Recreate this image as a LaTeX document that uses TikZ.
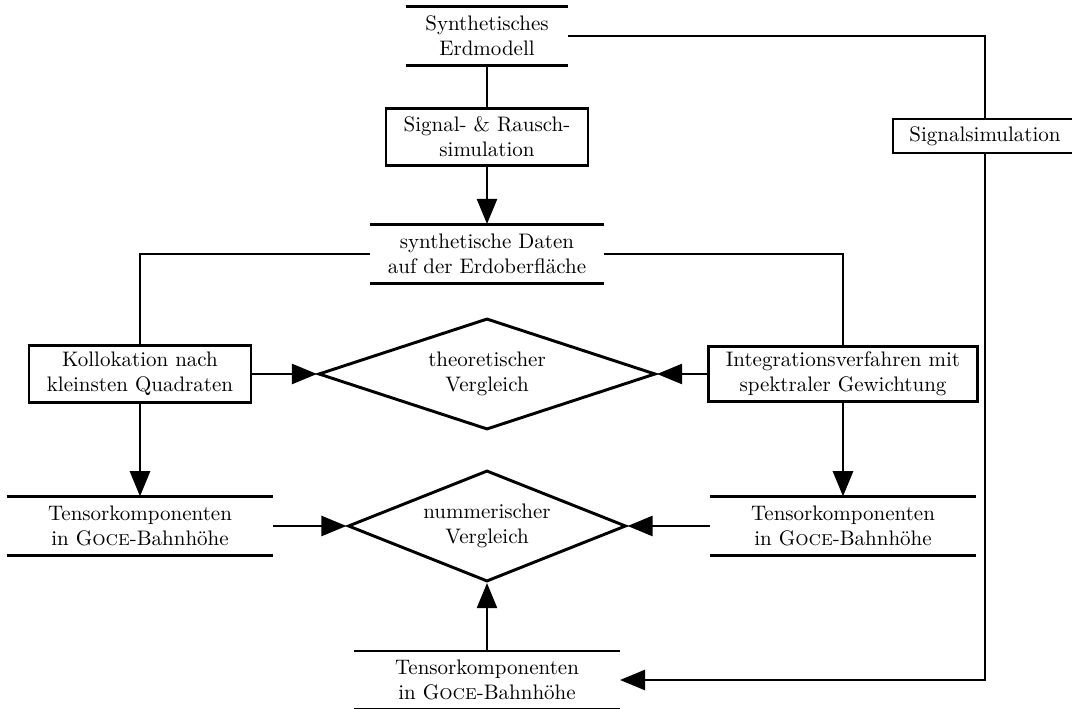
\documentclass[tikz,border=0pt]{standalone}
\usepackage{fontspec}
\usetikzlibrary{arrows.meta,shapes.geometric}
\begin{document}
\begin{tikzpicture}[x=0.4762pt,y=-0.4762pt,
  line width=1.4pt,
  every node/.style={inner sep=0pt,align=center,font=\normalsize},
  store/.style={rectangle,minimum height=26.8pt},
  box/.style={rectangle,draw,minimum height=26.8pt},
  dia/.style={diamond,draw,aspect=3,minimum height=52.9pt},
  arr/.style={-{Triangle[length=12pt,width=9.5pt]}}]
\useasboundingbox (0,0) rectangle (1072,709);
% nodes
\node[store,minimum width=76.2pt] (erd) at (487,36) {Synthetisches\\Erdmodell};
\node[box,minimum width=96.2pt,minimum height=27.1pt] (sr) at (487,137) {Signal- \& Rausch-\\simulation};
\node[store,minimum width=110.5pt,minimum height=27.1pt] (daten) at (487,254) {synthetische Daten\\auf der Erdoberfläche};
\node[box,minimum width=105.7pt] (koll) at (140,374) {Kollokation nach\\kleinsten Quadraten};
\node[box,minimum width=128.1pt,minimum height=26.2pt] (integ) at (843,374) {Integrationsverfahren mit\\spektraler Gewichtung};
\node[dia,minimum width=160.5pt] (theo) at (487,374) {theoretischer\\Vergleich};
\node[store,minimum width=125.7pt] (tl) at (140,526) {Tensorkomponenten\\in G\textsc{oce}-Bahnhöhe};
\node[dia,minimum width=132.4pt] (num) at (487,526) {nummerischer\\Vergleich};
\node[store,minimum width=125.2pt] (tr) at (843,526) {Tensorkomponenten\\in G\textsc{oce}-Bahnhöhe};
\node[store,minimum width=125.2pt,minimum height=26.2pt] (tb) at (487,680) {Tensorkomponenten\\in G\textsc{oce}-Bahnhöhe};
\node[box,minimum width=87.6pt,minimum height=16.2pt] (sig) at (985,136) {Signalsimulation};
% store lines
\foreach \n in {erd,daten,tl,tr,tb}{
  \draw (\n.north west) -- (\n.north east) (\n.south west) -- (\n.south east);
}
% connectors
\draw (erd.east) -| (sig.north);
\draw (erd.south) -- (sr.north);
\draw[arr] (sr.south) -- (daten.north);
\draw (daten.west) -| (koll.north);
\draw (daten.east) -| (integ.north);
\draw[arr] (koll.east) -- (theo.west);
\draw[arr] (integ.west) -- (theo.east);
\draw[arr] (koll.south) -- (tl.north);
\draw[arr] (integ.south) -- (tr.north);
\draw[arr] (tl.east) -- (num.west);
\draw[arr] (tr.west) -- (num.east);
\draw[arr] (tb.north) -- (num.south);
\draw[arr] (sig.south) |- (tb.east);
\end{tikzpicture}
\end{document}
